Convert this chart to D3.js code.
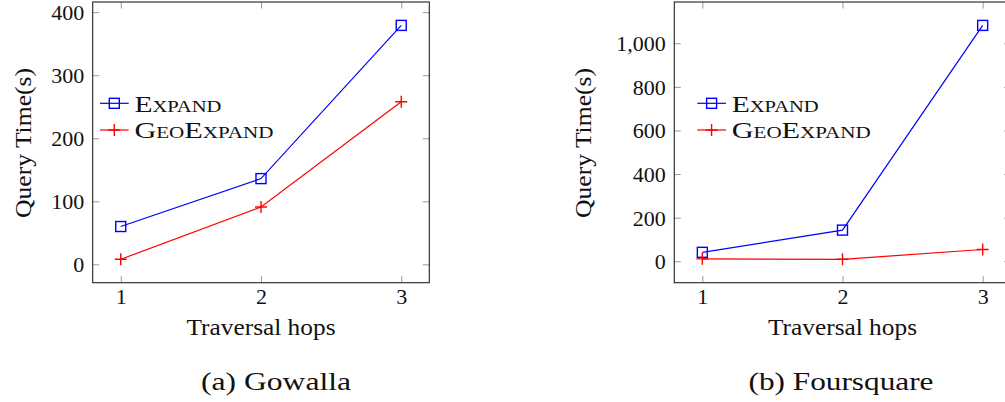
<!DOCTYPE html>
<html>
<head>
<meta charset="utf-8">
<script src="https://cdn.jsdelivr.net/npm/d3@7"></script>
<style>
  body { margin: 0; background: #fff; }
  svg { display: block; }
  svg text { font-family: "Liberation Serif", "DejaVu Serif", serif; }
</style>
</head>
<body>
<svg id="viz"></svg>
<script>
const width = 1005, height = 402;

// data
const hops = [1, 2, 3];
const seriesNames = ["Expand", "GeoExpand"];
const gowallaExpand = [60, 136, 379];
const gowallaGeo = [8, 91, 258];
const foursquareExpand = [41, 143, 1082];
const foursquareGeo = [11, 9, 54];
const gowallaTicks = [0, 100, 200, 300, 400];
const foursquareTicks = [0, 200, 400, 600, 800, 1000];
const xTitle = "Traversal hops";
const yTitle = "Query Time(s)";
const captions = ["(a) Gowalla", "(b) Foursquare"];

const colors = ["#0000ff", "#ff0000"];
const serif = "'Liberation Serif', 'DejaVu Serif', serif";

const svg = d3.select("#viz").attr("width", width).attr("height", height);

// layout for each panel
const panels = [
  { left: 92.7, top: 2, w: 336.6, h: 280.7, series: [gowallaExpand, gowallaGeo], ticks: gowallaTicks,
    ylabX: 31, legX: 100, capX: 276, capLen: 150, caption: captions[0] },
  { left: 674.3, top: 2, w: 336.4, h: 280.7, series: [foursquareExpand, foursquareGeo], ticks: foursquareTicks,
    ylabX: 591, legX: 697.3, capX: 841, capLen: 185, caption: captions[1] }
];

function enlarge(ext) {
  const pad = (ext[1] - ext[0]) * 0.1;
  return [ext[0] - pad, ext[1] + pad];
}

panels.forEach(function(p) {
  const g = svg.append("g").attr("transform", `translate(${p.left},${p.top})`);

  const x = d3.scaleLinear().domain(enlarge(d3.extent(hops))).range([0, p.w]);
  const y = d3.scaleLinear().domain(enlarge(d3.extent(p.series.flat()))).range([p.h, 0]);

  const tickLen = 6.5;

  // bottom axis (labels) + top mirrored ticks
  const xb = g.append("g").attr("transform", `translate(0,${p.h})`)
    .call(d3.axisBottom(x).tickValues(hops).tickSize(-tickLen).tickFormat(d3.format("d")));
  xb.selectAll("text").attr("y", 21.8).attr("dy", null);
  g.append("g").call(d3.axisTop(x).tickValues(hops).tickSize(-tickLen).tickFormat(""));

  // left axis (labels) + right mirrored ticks
  const yl = g.append("g")
    .call(d3.axisLeft(y).tickValues(p.ticks).tickSize(-tickLen).tickFormat(d3.format(",")));
  yl.selectAll("text").attr("x", -8.5).attr("dy", "0.34em");
  g.append("g").attr("transform", `translate(${p.w},0)`)
    .call(d3.axisRight(y).tickValues(p.ticks).tickSize(-tickLen).tickFormat(""));

  g.selectAll(".domain").remove();
  g.selectAll("g").attr("font-family", serif).attr("font-size", 22);
  g.selectAll(".tick line").attr("stroke", "#999").attr("stroke-width", 1);
  g.selectAll(".tick text").attr("font-size", 22).attr("fill", "#111");

  g.append("rect").attr("width", p.w).attr("height", p.h)
    .attr("fill", "none").attr("stroke", "#222").attr("stroke-width", 1.1);

  const line = d3.line().x((d, i) => x(hops[i])).y(d => y(d));

  p.series.forEach(function(vals, si) {
    g.append("path").datum(vals).attr("d", line)
      .attr("fill", "none").attr("stroke", colors[si]).attr("stroke-width", 1.2);
  });

  // Expand: squares
  g.selectAll(".sq").data(p.series[0]).enter().append("rect")
    .attr("x", (d, i) => x(hops[i]) - 5).attr("y", d => y(d) - 5)
    .attr("width", 10).attr("height", 10)
    .attr("fill", "none").attr("stroke", colors[0]).attr("stroke-width", 1.4);

  // GeoExpand: plus marks
  g.selectAll(".pl").data(p.series[1]).enter().append("path")
    .attr("d", (d, i) => {
      const cx = x(hops[i]), cy = y(d);
      return `M${cx - 6},${cy}H${cx + 6}M${cx},${cy - 6}V${cy + 6}`;
    })
    .attr("stroke", colors[1]).attr("stroke-width", 1.4).attr("fill", "none");

  // legend
  const legRows = [103.3, 130];
  const legLens = [87, 139];
  seriesNames.forEach(function(name, si) {
    const ly = legRows[si];
    svg.append("line").attr("x1", p.legX).attr("x2", p.legX + 28.7)
      .attr("y1", ly).attr("y2", ly).attr("stroke", colors[si]).attr("stroke-width", 1.2);
    const mx = p.legX + 14.3;
    if (si === 0) {
      svg.append("rect").attr("x", mx - 5).attr("y", ly - 5).attr("width", 10).attr("height", 10)
        .attr("fill", "none").attr("stroke", colors[si]).attr("stroke-width", 1.4);
    } else {
      svg.append("path").attr("d", `M${mx - 6},${ly}H${mx + 6}M${mx},${ly - 6}V${ly + 6}`)
        .attr("stroke", colors[si]).attr("stroke-width", 1.4);
    }
    svg.append("text").attr("x", p.legX + 34.4).attr("y", ly + 8.2)
      .attr("font-size", 23).attr("font-variant", "small-caps").attr("fill", "#111")
      .attr("textLength", legLens[si]).attr("lengthAdjust", "spacingAndGlyphs")
      .text(name);
  });

  // axis titles
  svg.append("text").attr("x", p.left + x(2)).attr("y", 335)
    .attr("text-anchor", "middle").attr("font-size", 23).attr("fill", "#111")
    .attr("textLength", 149).attr("lengthAdjust", "spacingAndGlyphs")
    .text(xTitle);

  svg.append("text").attr("transform", `translate(${p.ylabX},143) rotate(-90)`)
    .attr("text-anchor", "middle").attr("font-size", 23).attr("fill", "#111")
    .attr("textLength", 150).attr("lengthAdjust", "spacingAndGlyphs")
    .text(yTitle);

  // caption
  svg.append("text").attr("x", p.capX).attr("y", 389.5)
    .attr("text-anchor", "middle").attr("font-size", 26).attr("fill", "#111")
    .attr("textLength", p.capLen).attr("lengthAdjust", "spacingAndGlyphs")
    .text(p.caption);
});
</script>
</body>
</html>
